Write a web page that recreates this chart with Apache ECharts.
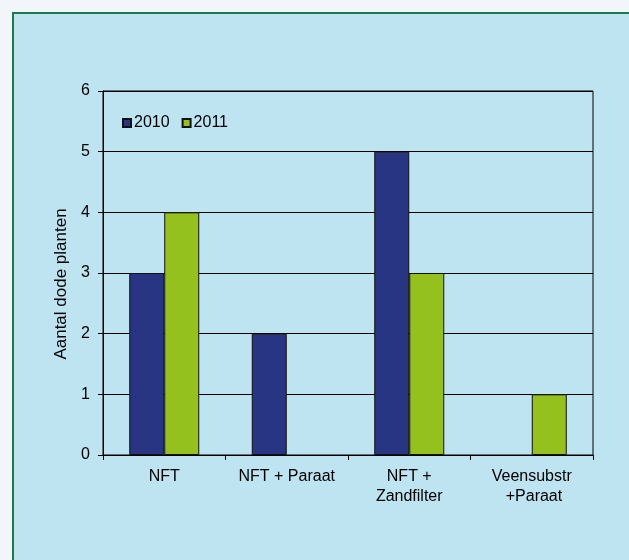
<!DOCTYPE html>
<html>
<head>
<meta charset="utf-8">
<style>
  html, body { margin: 0; padding: 0; background: #F2F5FA; }
  #chart { width: 629px; height: 560px; }
</style>
<script src="https://cdn.jsdelivr.net/npm/echarts@6/dist/echarts.min.js"></script>
</head>
<body>
<div id="chart"></div>
<script>
// Aantal dode planten per teeltsysteem, 2010 en 2011
const categories = ['NFT', 'NFT + Paraat', 'NFT +\nZandfilter', 'Veensubstr\n +Paraat'];
const values2010 = [3, 2, 5, 0];
const values2011 = [4, 0, 3, 1];
const yTicks = [0, 1, 2, 3, 4, 5, 6];

const FONT = '"Liberation Sans", Arial, sans-serif';
const chart = echarts.init(document.getElementById('chart'), null, { renderer: 'canvas' });

// zero-height bars get no outline
const toBars = vals => vals.map(v => v === 0 ? { value: v, itemStyle: { borderWidth: 0 } } : v);

chart.setOption({
  backgroundColor: '#F2F5FA',
  animation: false,
  textStyle: { fontFamily: FONT, color: '#000' },
  graphic: [{
    type: 'rect',
    z: -10,
    shape: { x: 13, y: 13, width: 640, height: 560 },
    style: { fill: '#BEE3F1', stroke: '#1E7A4A', lineWidth: 2 }
  }],
  grid: { left: 103, right: 36, top: 91, bottom: 105, show: true, borderColor: '#000', borderWidth: 1 },
  legend: {
    left: 117, top: 110,
    icon: 'rect',
    itemWidth: 8, itemHeight: 8, itemGap: 12,
    textStyle: { fontFamily: FONT, fontSize: 16, color: '#000', padding: [0, 0, 0, -2] },
    data: ['2010', '2011']
  },
  xAxis: {
    type: 'category',
    data: categories,
    axisLine: { lineStyle: { color: '#000', width: 1 } },
    axisTick: { show: true, length: 5, alignWithLabel: false, lineStyle: { color: '#000' } },
    axisLabel: { fontFamily: FONT, fontSize: 16, color: '#000', margin: 12, lineHeight: 20, interval: 0 }
  },
  yAxis: {
    type: 'value',
    min: yTicks[0], max: yTicks[yTicks.length - 1], interval: 1,
    name: 'Aantal dode planten',
    nameLocation: 'middle',
    nameGap: 33,
    nameTextStyle: { fontFamily: FONT, fontSize: 17, color: '#000', padding: [0, 22, 0, 0] },
    axisLine: { show: true, lineStyle: { color: '#000', width: 1 } },
    axisTick: { show: true, length: 5, lineStyle: { color: '#000' } },
    axisLabel: { fontFamily: FONT, fontSize: 16, color: '#000', margin: 13 },
    splitLine: { show: true, lineStyle: { color: '#000', width: 1 } }
  },
  series: [
    {
      name: '2010', type: 'bar', data: toBars(values2010),
      barWidth: 35, barGap: '0%',
      itemStyle: { color: '#283583', borderColor: '#111', borderWidth: 1 }
    },
    {
      name: '2011', type: 'bar', data: toBars(values2011),
      barWidth: 35, barGap: '0%',
      itemStyle: { color: '#95C11F', borderColor: '#111', borderWidth: 1 }
    }
  ]
});
</script>
</body>
</html>
